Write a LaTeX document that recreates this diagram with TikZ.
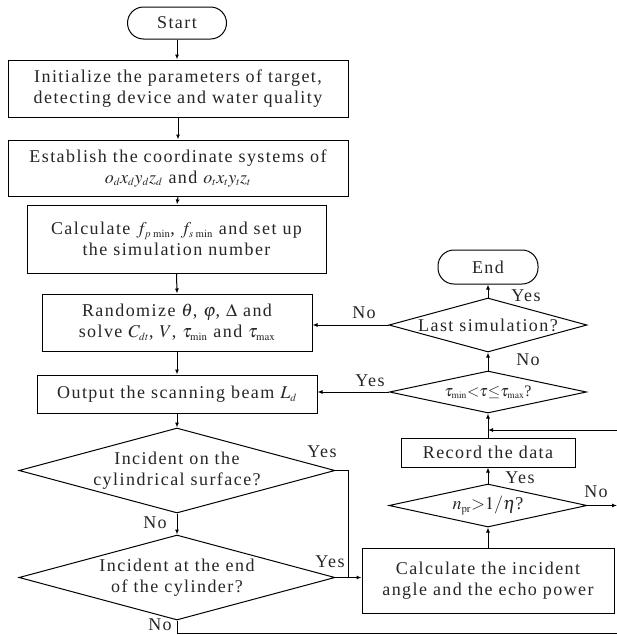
\documentclass[tikz,border=0pt]{standalone}
\usepackage{mathptmx}
\usepackage{fontspec}
\setmainfont{Liberation Serif}[LetterSpace=8]
\usetikzlibrary{shapes.geometric,arrows.meta}
\newcommand\sbt[1]{_{\scriptscriptstyle #1}}
\tikzset{
  box/.style  = {draw, rectangle, align=center, inner sep=0pt, line width=1pt},
  term/.style = {draw, rectangle, rounded corners=#1, inner sep=0pt, line width=1pt},
  term/.default = 16pt,
  dia/.style  = {draw, diamond, inner sep=0pt, line width=1pt},
  arr/.style  = {-{Latex[length=5pt,width=4pt]}, line width=1pt},
  lbl/.style  = {inner sep=0pt}
}

\begin{document}
\begin{tikzpicture}[x=1pt, y=-1pt, font=\fontsize{18}{21}\selectfont, text=black!85]
	\def \lx{177} % left column
	\def \rx{488} % right column
	\useasboundingbox (0,0) rectangle (617,635);
	\fill[white] (0,0) rectangle (617,635);

	% Left column
	\node[term, minimum width=99, minimum height=32] (start) at (\lx,23) {Start};
	\node[box, minimum width=340, minimum height=57] (init) at (178,88.5)
		{Initialize the parameters of target,\\detecting device and water quality};
	\node[box, minimum width=340, minimum height=56] (coord) at (178,168)
		{Establish the coordinate systems of\\$o\sbt{d}x\sbt{d}y\sbt{d}z\sbt{d}$ and $o\sbt{t}x\sbt{t}y\sbt{t}z\sbt{t}$};
	\node[box, minimum width=299, minimum height=68] (calcf) at (176.5,239)
		{Calculate $f\sbt{p\,\min}$, $f\sbt{s\,\min}$ and set up\\the simulation number};
	\node[box, minimum width=270, minimum height=57] (rand) at (177,322.5)
		{Randomize $\theta$, $\varphi$, $\Delta$ and\\solve $C\sbt{dt}$, $V$, $\tau\sbt{\min}$ and $\tau\sbt{\max}$};
	\node[box, minimum width=280, minimum height=38] (beam) at (177,394)
		{Output the scanning beam $L\sbt{d}$};
	\node[dia, minimum width=316, minimum height=85,
		label={[align=center]center:Incident on the\\cylindrical surface?}] (surf) at (\lx,470.5) {};
	\node[dia, minimum width=316, minimum height=85,
		label={[align=center]center:Incident at the end\\of the cylinder?}] (endc) at (\lx,577.5) {};

	% Right column
	\node[box, minimum width=252, minimum height=65] (echo) at (\rx,580.5)
		{Calculate the incident\\angle and the echo power};
	\node[dia, minimum width=198, minimum height=43,
		label={center:$n\sbt{\mathrm{pr}}{>}1/\eta$?}] (npr) at (\rx,505.5) {};
	\node[box, minimum width=174, minimum height=29] (rec) at (\rx,452.5) {Record the data};
	\node[dia, minimum width=197, minimum height=42,
		label={[font=\fontsize{16}{19}\selectfont]center:$\tau\sbt{\min}{<}\tau{\le}\tau\sbt{\max}$?}] (tau) at (\rx,392) {};
	\node[dia, minimum width=198, minimum height=54,
		label={center:Last simulation?}] (last) at (\rx,325) {};
	\node[term, minimum width=100, minimum height=34] (end) at (\rx,267) {End};

	% Free ends
	\coordinate (jn) at (348,577.5);
	\coordinate (out1) at (617,633);
	\coordinate (out2) at (617,505.5);
	\coordinate (in1) at (617,430);

	% Connectors, left
	\draw[arr] (start.south) -- (start.south |- init.north);
	\draw[arr] (init.south) -- (init.south |- coord.north);
	\draw[arr] (coord.south) -- (\lx,0 |- calcf.north);
	\draw[arr] (calcf.south) -- (\lx,0 |- rand.north);
	\draw[arr] (rand.south) -- (rand.south |- beam.north);
	\draw[arr] (beam.south) -- (surf.north);
	\draw[arr] (surf.south) -- (endc.north);
	\draw[line width=1pt] (surf.east) -| (jn);
	\draw[arr] (endc.east) -- (endc.east -| echo.west);
	\draw[line width=1pt] (endc.south) |- (out1);

	% Connectors, right
	\draw[arr] (echo.north) -- (npr.south);
	\draw[arr] (npr.east) -- (out2);
	\draw[arr] (npr.north) -- (rec.south);
	\draw[arr] (in1) -- (in1 -| rec.north);
	\draw[arr] (rec.north) -- (tau.south);
	\draw[arr] (tau.west) -- (tau.west -| beam.east);
	\draw[arr] (tau.north) -- (last.south);
	\draw[arr] (last.west) -- (last.west -| rand.east);
	\draw[arr] (last.north) -- (end.south);

	% Labels
	\node[lbl] (y1) at (322,452) {Yes};
	\node[lbl] (n1) at (155,523) {No};
	\node[lbl] (y2) at (330,562) {Yes};
	\node[lbl] (n2) at (160,625) {No};
	\node[lbl] (n3) at (596,492) {No};
	\node[lbl] (y3) at (520,478) {Yes};
	\node[lbl] (y4) at (370,381) {Yes};
	\node[lbl] (n4) at (528,360) {No};
	\node[lbl] (n5) at (364,313) {No};
	\node[lbl] (y5) at (526,296) {Yes};
\end{tikzpicture}
\end{document}
